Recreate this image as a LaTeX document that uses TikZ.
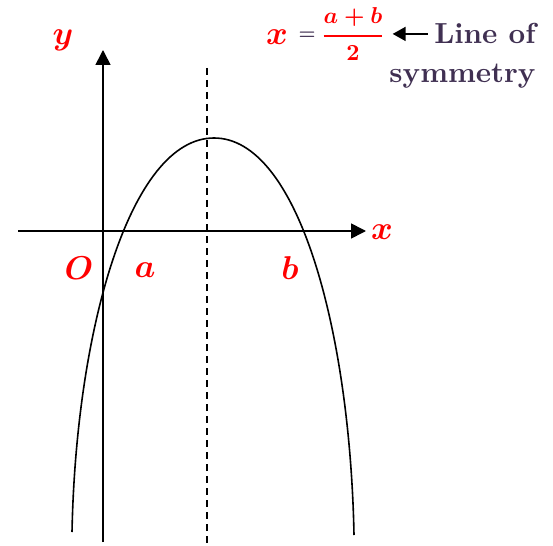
\documentclass[tikz,border=0pt]{standalone}
\usepackage{amsmath}
\usepackage{tikz}
\usetikzlibrary{arrows.meta}
\definecolor{labelred}{rgb}{1.0, 0.0, 0.0}
\definecolor{darkpurple}{rgb}{0.25, 0.19, 0.32}
\tikzset{
	axislabel/.style={labelred,scale=3.3,inner sep=0pt,font=\boldmath},
	notetext/.style={darkpurple,scale=2.9,inner sep=0pt,font=\bfseries},
	axisline/.style={line width=1.6pt,-{Triangle[length=15pt,width=15pt]}},
}
\begin{document}
\begin{tikzpicture}[x=1pt,y=-1pt]
					\useasboundingbox (0,0) rectangle (553,545);
					\coordinate (xstart) at (18,231);
					\coordinate (xend) at (366,231);
					\coordinate (ystart) at (103,542);
					\coordinate (yend) at (103,50);
					\coordinate (symtop) at (207,68);
					\coordinate (symbottom) at (207,545);
					\coordinate (leftend) at (72,532);
					\coordinate (vertex) at (214,138);
					\coordinate (rightend) at (354,535);
					\draw[axisline] (xstart) -- (xend);
					\draw[axisline] (ystart) -- (yend);
					\draw[line width=1.7pt,dash pattern=on 7pt off 5pt] (symtop) -- (symbottom);
					\draw[line width=1.6pt] (leftend) .. controls (76,330) and (130,138) .. (vertex)
						.. controls (298,138) and (350,330) .. (rightend);
					\node[axislabel] (ylabel) at (63,40) {$y$};
					\node[axislabel] (xlabel) at (382,232) {$x$};
					\node[axislabel] (origin) at (79,268) {$O$};
					\node[axislabel] (aroot) at (145,270) {$a$};
					\node[axislabel] (broot) at (290,268) {$b$};
					\node[axislabel] (symx) at (277,37) {$x$};
					\node[darkpurple,scale=1.9,inner sep=0pt,font=\boldmath] (equals) at (307,36) {$=$};
					\node[labelred,scale=2.3,inner sep=0pt,font=\boldmath] (frac) at (353,34)
						{$\genfrac{}{}{1.2pt}{0}{\displaystyle a+b}{\displaystyle 2}$};
					\node[notetext,anchor=base east] (lineof) at (536,44) {Line of};
					\node[notetext,anchor=base east] (symmetry) at (536,83) {symmetry};
					\draw[line width=1.8pt,-{Triangle[length=13pt,width=14pt]},
						shorten <=6pt,shorten >=7pt] (lineof.west) -- (frac.east |- lineof.west);
				\end{tikzpicture}
\end{document}
